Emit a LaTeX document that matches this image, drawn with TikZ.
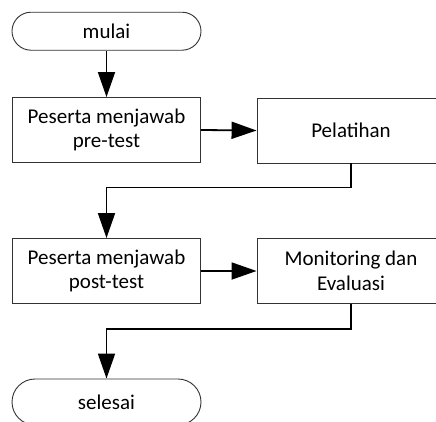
\documentclass[tikz,border=0pt]{standalone}
\usepackage{fontspec}
\setmainfont{Carlito}
\usetikzlibrary{shapes.misc,arrows.meta}
\begin{document}
\begin{tikzpicture}[x=1pt,y=-1pt,
  txt/.style={font=\fontsize{21}{24.5}\selectfont, align=center, inner sep=0pt},
  proc/.style={txt, draw=black!80, line width=0.9pt, minimum width=188pt, minimum height=65pt},
  term/.style={txt, rounded rectangle, draw=black!80, line width=0.9pt, minimum width=189pt, minimum height=38pt},
  flow/.style={line width=1.8pt, -{Triangle[length=25pt,width=17pt]}},
  link/.style={line width=1.8pt}]
\useasboundingbox (0,0) rectangle (436,421);
\clip (0,0) rectangle (436,421);
\node[term] (start) at (106.5,31.2) {mulai};
\node[proc] (p1) at (106.5,130) {Peserta menjawab\\pre-test};
\node[proc] (p2) at (351,130.5) {Pelatihan};
\node[proc] (p3) at (106.5,271) {Peserta menjawab\\post-test};
\node[proc] (p4) at (351,271) {Monitoring dan\\Evaluasi};
\node[term, minimum height=46pt] (end) at (106.5,402) {selesai};
\draw[flow] (start.south) -- (p1.north);
\draw[flow] (p1.east) -- (p2.west);
\draw[flow] (p2.south) -- ++(0,24) -| (p3.north);
\draw[flow] (p3.east) -- (p4.west);
\draw[flow] (p4.south) -- ++(0,25) -| (end.north);
\end{tikzpicture}
\end{document}
